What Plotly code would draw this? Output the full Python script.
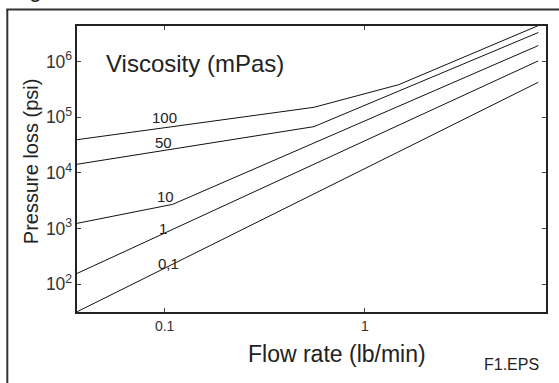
import numpy as np
import plotly.graph_objects as go

# Data (flow rate in lb/min, pressure loss in psi)
visc_labels = ["100", "50", "10", "1", "0,1"]
x_100 = [0.0365, 0.557, 1.476, 7.35]
y_100 = [39500, 151000, 385000, 4.43e6]
x_50 = [0.0365, 0.557, 7.35]
y_50 = [14300, 67800, 3.33e6]
x_10 = [0.0365, 0.1096, 7.35]
y_10 = [1240, 2720, 1.94e6]
x_1 = [0.0365, 7.35]
y_1 = [156, 1.03e6]
x_01 = [0.0365, 7.35]
y_01 = [31.9, 425000]

label_x = [0.1, 0.0989, 0.1012, 0.0977, 0.1047]
label_y = [97000, 34500, 3690, 1020, 240]

series = [(x_100, y_100), (x_50, y_50), (x_10, y_10), (x_1, y_1), (x_01, y_01)]

FONT = "Liberation Sans, Arial, sans-serif"
TXT = "#222222"

fig = go.Figure()
for (xs, ys), name in zip(series, visc_labels):
    fig.add_trace(go.Scatter(x=xs, y=ys, mode="lines", name=name,
                             line=dict(color="#111111", width=1),
                             showlegend=False, hoverinfo="skip"))

for lx, ly, t in zip(label_x, label_y, visc_labels):
    fig.add_annotation(x=float(np.log10(lx)), y=float(np.log10(ly)), xref="x", yref="y",
                       text=t, showarrow=False,
                       font=dict(family=FONT, size=15, color=TXT),
                       xanchor="center", yanchor="middle")

W, H = 559, 383
L, R, T, B = 77, 11, 26, 71
pw, ph = W - L - R, H - T - B

def px(x):
    return (x - L) / pw

def py(y):
    return (H - B - y) / ph

# Texts
fig.add_annotation(x=px(104), y=py(63), xref="paper", yref="paper",
                   text="Viscosity (mPas)", showarrow=False, xanchor="left", yanchor="middle",
                   font=dict(family=FONT, size=24, color=TXT))
fig.add_annotation(x=px(338), y=py(354), xref="paper", yref="paper",
                   text="Flow rate (lb/min)", showarrow=False, xanchor="center", yanchor="middle",
                   font=dict(family=FONT, size=23, color=TXT))
fig.add_annotation(x=px(31), y=py(161), xref="paper", yref="paper",
                   text="Pressure loss (psi)", showarrow=False, xanchor="center", yanchor="middle",
                   textangle=-90,
                   font=dict(family=FONT, size=20, color=TXT))
fig.add_annotation(x=px(543), y=py(364), xref="paper", yref="paper",
                   text="F1.EPS", showarrow=False, xanchor="right", yanchor="middle",
                   font=dict(family=FONT, size=16, color=TXT))
# cropped remnant of a caption above the frame
fig.add_annotation(x=px(35), y=py(4), xref="paper", yref="paper",
                   text="g", showarrow=False, xanchor="center", yanchor="bottom",
                   font=dict(family=FONT, size=23, color=TXT))

# Outer (cropped) frame
fig.add_shape(type="line", xref="paper", yref="paper",
              x0=px(7), x1=px(7), y0=py(9.5), y1=py(420),
              line=dict(color="#333333", width=2))
fig.add_shape(type="line", xref="paper", yref="paper",
              x0=px(6), x1=px(620), y0=py(9.5), y1=py(9.5),
              line=dict(color="#333333", width=2))

axis_common = dict(type="log", showgrid=False, zeroline=False,
                   showline=True, linecolor="#222222", linewidth=2, mirror="ticks",
                   ticks="inside", ticklen=4, tickcolor="#444444", tickwidth=1,
                   dtick=1,
                   tickfont=dict(family=FONT, size=14, color="#333333"))

fig.update_layout(
    width=W, height=H,
    margin=dict(l=L, r=R, t=T, b=B),
    paper_bgcolor="white", plot_bgcolor="white",
    xaxis=dict(range=[-1.438, 0.905], exponentformat="none", **axis_common),
    yaxis=dict(range=[1.5, 6.64], exponentformat="power", **axis_common),
)

fig.write_html("out.html")
